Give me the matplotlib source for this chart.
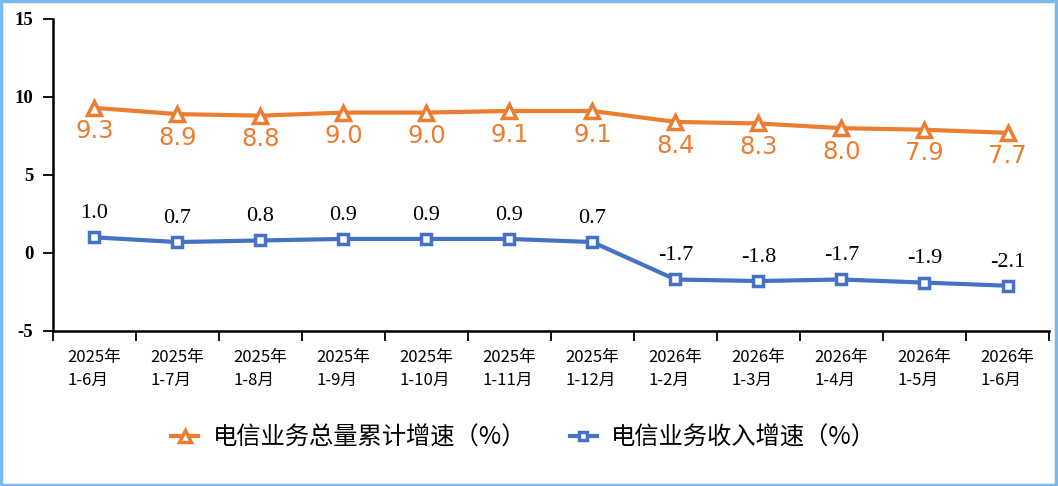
import matplotlib
matplotlib.use("Agg")
import matplotlib.pyplot as plt
from matplotlib.patches import Rectangle

plt.rcParams['font.family'] = ['Noto Sans CJK SC', 'DejaVu Sans']

periods = ["2025年\n1-6月", "2025年\n1-7月", "2025年\n1-8月", "2025年\n1-9月",
           "2025年\n1-10月", "2025年\n1-11月", "2025年\n1-12月", "2026年\n1-2月",
           "2026年\n1-3月", "2026年\n1-4月", "2026年\n1-5月", "2026年\n1-6月"]
total_growth = [9.3, 8.9, 8.8, 9.0, 9.0, 9.1, 9.1, 8.4, 8.3, 8.0, 7.9, 7.7]
revenue_growth = [1.0, 0.7, 0.8, 0.9, 0.9, 0.9, 0.7, -1.7, -1.8, -1.7, -1.9, -2.1]
yticks = [-5, 0, 5, 10, 15]

orange = '#ED7D31'
blue = '#4472C4'

fig = plt.figure(figsize=(10.58, 4.86), dpi=100)
ax = fig.add_axes([0.050, 0.319, 0.9415, 0.642])

x = list(range(len(periods)))
ax.plot(x, total_growth, color=orange, lw=3, marker='^', ms=10, mfc='white',
        mec=orange, mew=2.5, label='电信业务总量累计增速（%）')
ax.plot(x, revenue_growth, color=blue, lw=3, marker='s', ms=7.5, mfc='white',
        mec=blue, mew=2.5, label='电信业务收入增速（%）')

for i, v in enumerate(total_growth):
    ax.annotate(f"{v:.1f}", (i, v), xytext=(0, -17), textcoords='offset points',
                ha='center', va='center', color=orange, fontsize=17.5,
                family='DejaVu Sans')
for i, v in enumerate(revenue_growth):
    ax.annotate(f"{v:.1f}", (i, v), xytext=(0, 17), textcoords='offset points',
                ha='center', va='center', color='black', fontsize=16,
                family='Liberation Serif')

ax.set_xlim(-0.5, len(periods) - 0.5)
ax.set_ylim(-5, 15)
ax.set_yticks(yticks)
ax.set_yticklabels([str(t) for t in yticks], family='Liberation Serif',
                   fontweight='bold', fontsize=13.5)
ax.set_xticks([i - 0.5 for i in range(len(periods) + 1)])
ax.set_xticklabels([])
ax.set_xticks(x, minor=True)
ax.set_xticklabels(periods, minor=True, fontsize=12, linespacing=1.45,
                   ha='center', multialignment='left')
ax.tick_params(axis='x', which='minor', length=0, pad=13)
ax.tick_params(axis='x', which='major', length=7, width=1.3, direction='out')
ax.tick_params(axis='y', length=7, width=1.3, pad=7)

for s in ['top', 'right']:
    ax.spines[s].set_visible(False)
for s in ['left', 'bottom']:
    ax.spines[s].set_linewidth(1.8)
    ax.spines[s].set_color('black')

fig.legend(loc='center', bbox_to_anchor=(0.495, 0.10), ncol=2, frameon=False,
           fontsize=17.5, handlelength=1.1, columnspacing=1.8, handletextpad=0.6,
           markerscale=0.85)

fig.patches.append(Rectangle((0.001, 0.002), 0.997, 0.995, transform=fig.transFigure,
                             fill=False, edgecolor='#7DB8EA', lw=2.5))

fig.savefig("out.png", dpi=100)
